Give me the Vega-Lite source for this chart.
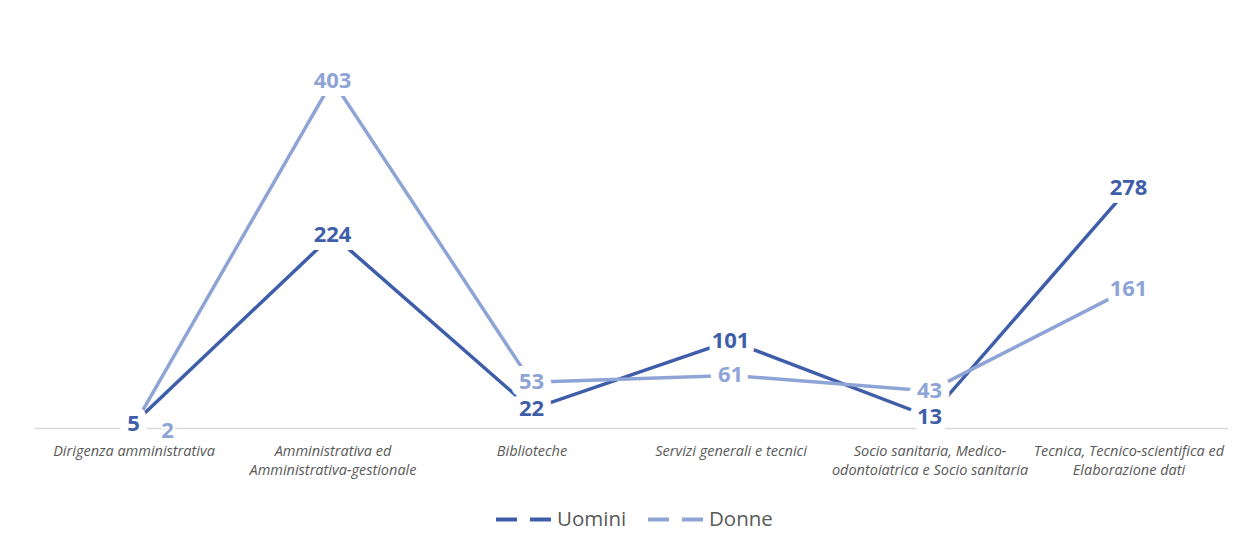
{
  "$schema": "https://vega.github.io/schema/vega-lite/v6.json",
  "width": 1194,
  "height": 388,
  "autosize": "none",
  "padding": {"left": 34, "top": 40, "right": 27, "bottom": 122},
  "background": "white",
  "config": {"view": {"stroke": null}, "font": "Open Sans"},
  "data": {"values": [
    {"cat": "Dirigenza amministrativa", "serie": "Uomini", "v": 5},
    {"cat": "Amministrativa ed|Amministrativa-gestionale", "serie": "Uomini", "v": 224},
    {"cat": "Biblioteche", "serie": "Uomini", "v": 22},
    {"cat": "Servizi generali e tecnici", "serie": "Uomini", "v": 101},
    {"cat": "Socio sanitaria, Medico-|odontoiatrica e Socio sanitaria", "serie": "Uomini", "v": 13},
    {"cat": "Tecnica, Tecnico-scientifica ed|Elaborazione dati", "serie": "Uomini", "v": 278},
    {"cat": "Dirigenza amministrativa", "serie": "Donne", "v": 2},
    {"cat": "Amministrativa ed|Amministrativa-gestionale", "serie": "Donne", "v": 403},
    {"cat": "Biblioteche", "serie": "Donne", "v": 53},
    {"cat": "Servizi generali e tecnici", "serie": "Donne", "v": 61},
    {"cat": "Socio sanitaria, Medico-|odontoiatrica e Socio sanitaria", "serie": "Donne", "v": 43},
    {"cat": "Tecnica, Tecnico-scientifica ed|Elaborazione dati", "serie": "Donne", "v": 161}
  ]},
  "encoding": {
    "x": {
      "field": "cat", "type": "nominal", "sort": null, "title": null,
      "axis": {
        "labelExpr": "split(datum.label, '|')",
        "labelAngle": 0, "ticks": false, "labelFontStyle": "italic",
        "labelFontSize": 14.5, "labelColor": "#595959", "labelLineHeight": 19,
        "labelPadding": 16, "domainColor": "#D9D9D9", "domainWidth": 1.5,
        "labelLimit": 300
      }
    },
    "y": {"field": "v", "type": "quantitative", "scale": {"domain": [0, 450]}, "axis": null},
    "color": {
      "field": "serie", "type": "nominal",
      "scale": {"domain": ["Uomini", "Donne"], "range": ["#3E5EAA", "#8FA4D6"]},
      "legend": {
        "orient": "none", "legendX": 460, "legendY": 450, "direction": "horizontal", "title": null,
        "symbolType": "stroke", "symbolSize": 3025, "symbolStrokeWidth": 4,
        "symbolDash": [21, 13], "labelFontSize": 20.5, "labelColor": "#595959",
        "labelOffset": 4, "columnPadding": 13
      }
    }
  },
  "layer": [
    {"mark": {"type": "line", "strokeWidth": 3.5}},
    {
      "transform": [{"filter": "!(datum.serie == 'Donne' && datum.v == 2)"}],
      "mark": {"type": "text", "fontWeight": "bold", "fontSize": 22, "stroke": "white", "strokeWidth": 16, "strokeJoin": "round", "align": "center", "baseline": "middle"},
      "encoding": {"text": {"field": "v"}, "color": {"value": "white"}}
    },
    {
      "transform": [{"filter": "!(datum.serie == 'Donne' && datum.v == 2)"}],
      "mark": {"type": "text", "fontWeight": "bold", "fontSize": 22, "align": "center", "baseline": "middle"},
      "encoding": {"text": {"field": "v"}}
    },
    {
      "transform": [{"filter": "datum.serie == 'Donne' && datum.v == 2"}],
      "mark": {"type": "text", "fontWeight": "bold", "fontSize": 22, "stroke": "white", "strokeWidth": 4, "strokeJoin": "round", "align": "center", "baseline": "middle", "dx": 34, "dy": 5},
      "encoding": {"text": {"field": "v"}, "color": {"value": "white"}}
    },
    {
      "transform": [{"filter": "datum.serie == 'Donne' && datum.v == 2"}],
      "mark": {"type": "text", "fontWeight": "bold", "fontSize": 22, "align": "center", "baseline": "middle", "dx": 34, "dy": 5},
      "encoding": {"text": {"field": "v"}}
    }
  ]
}
